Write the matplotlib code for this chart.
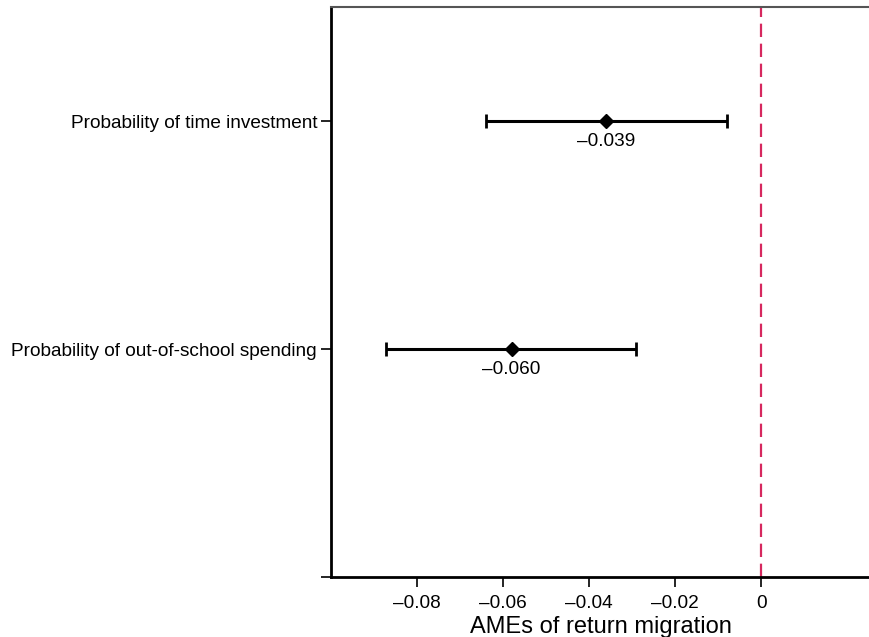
import matplotlib.pyplot as plt

plt.rcParams['font.family'] = ['Liberation Sans', 'DejaVu Sans']

# outcomes (bottom to top)
outcomes = ['Probability of out-of-school spending', 'Probability of time investment']
ypos = [1, 2]
coef = [-0.058, -0.036]
ci_low = [-0.0873, -0.0640]
ci_high = [-0.0290, -0.0079]
coef_labels = ['\u20130.060', '\u20130.039']

xticks = [-0.08, -0.06, -0.04, -0.02, 0]
xtick_labels = ['\u20130.08', '\u20130.06', '\u20130.04', '\u20130.02', '0']

fig = plt.figure(figsize=(8.7, 6.37), dpi=100)
ax = fig.add_axes([331 / 870, 60 / 637, 539 / 870, 570 / 637])

for y, c, lo, hi in zip(ypos, coef, ci_low, ci_high):
    ax.errorbar(c, y, xerr=[[c - lo], [hi - c]], fmt='none', ecolor='black',
                elinewidth=2.2, capsize=5, capthick=2.0)
ax.plot(coef, ypos, 'D', color='black', markersize=7, zorder=3)

# coefficient labels under each point
for y, c, t in zip(ypos, coef, coef_labels):
    ax.annotate(t, (c, y), xytext=(0, -8.5), textcoords='offset points',
                ha='center', va='top', fontsize=13.7)

ax.axvline(0, color='#d6285e', linestyle=(0, (6, 3)), linewidth=1.6)

ax.set_xlim(-0.1, 0.0253)
ax.set_ylim(0, 2.5)
ax.set_xticks(xticks)
ax.set_xticklabels(xtick_labels, fontsize=13.7)
ax.set_yticks([0] + ypos)
ax.set_yticklabels([''] + outcomes, fontsize=13.7)
ax.tick_params(axis='x', length=7, width=1.2, pad=6)
ax.tick_params(axis='y', length=7, width=1.2, pad=3)
ax.set_xlabel('AMEs of return migration', fontsize=17, va='baseline')
ax.xaxis.set_label_coords(0.5, -56 / 570)

ax.spines['right'].set_visible(False)
ax.spines['left'].set_linewidth(2)
ax.spines['bottom'].set_linewidth(2)
ax.spines['top'].set_linewidth(1.5)
ax.spines['top'].set_color('#555555')

fig.savefig('out.png', dpi=100)
